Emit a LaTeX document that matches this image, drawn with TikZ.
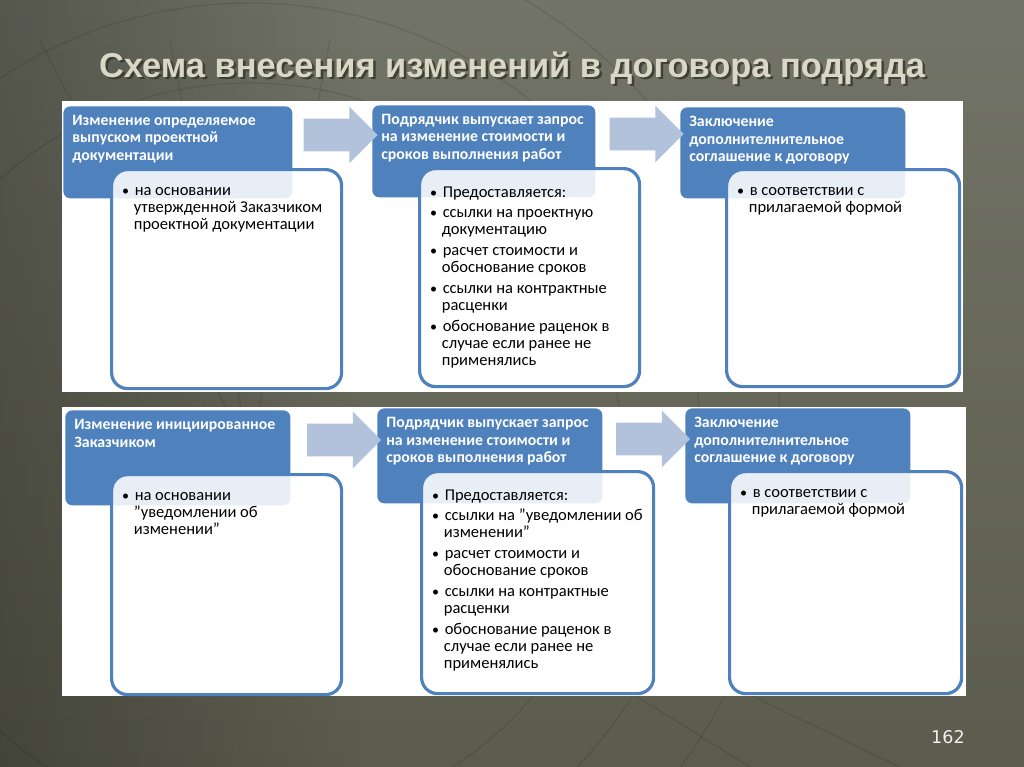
\documentclass[tikz,border=0pt]{standalone}
\usepackage{fontspec}
\setmainfont{Carlito}
\newfontfamily\titlefont{Liberation Sans}
\newfontfamily\numfont{DejaVu Sans}
\usetikzlibrary{shapes.arrows}
\usetikzlibrary{positioning}
\usetikzlibrary{fadings}
\definecolor{bgtop}{HTML}{727467}
\definecolor{bgbot}{HTML}{5B5C4D}
\definecolor{hdrblue}{HTML}{4F81BD}
\definecolor{arrblue}{HTML}{B3C2DB}
\definecolor{titlegray}{HTML}{DAD7C6}
\definecolor{shadowgray}{HTML}{35362C}
\newlength\pxu
\setlength\pxu{0.02cm}
\newenvironment{blist}{\begin{list}{\footnotesize\textbullet}{\setlength\leftmargin{7pt}\setlength\labelsep{3.2pt}\setlength\labelwidth{3.5pt}\setlength\itemsep{2.1pt}\setlength\parsep{0pt}\setlength\topsep{0pt}\setlength\partopsep{0pt}\raggedright}}{\end{list}}
\newcommand\hdtxt[3]{\parbox[t][#2\pxu][t]{#1\pxu}{\raggedright #3}}
\newcommand\bdtxt[3]{\parbox[t][#2\pxu][t]{#1\pxu}{\begin{blist}#3\end{blist}}}
\tikzfading[name=fadeleft, left color=transparent!0, right color=transparent!100]
\tikzset{
    hdrbox/.style = {rectangle, rounded corners=7\pxu, fill=hdrblue, anchor=north west, inner xsep=9\pxu, inner ysep=9\pxu, text=white, font=\bfseries\fontsize{9}{9.9}\selectfont},
    bodybox/.style = {rectangle, rounded corners=16\pxu, draw=hdrblue, line width=3.2\pxu, fill=white, fill opacity=0.87, text opacity=1, anchor=north west, inner xsep=10\pxu, inner ysep=18\pxu, text=black, font=\fontsize{9.4}{9.7}\selectfont},
    arrowbox/.style = {single arrow, fill=arrblue, inner xsep=0pt, inner ysep=16\pxu, single arrow head extend=12\pxu, single arrow tip angle=90, minimum height=74\pxu},
    gridline/.style = {black, opacity=0.10, line width=0.7pt}
}

\begin{document}
\begin{tikzpicture}[x=0.02cm, y=-0.02cm]
\useasboundingbox (0,0) rectangle (1024,767);
% background
\begin{scope}
\clip (0,0) rectangle (1024,767);
\shade[top color=bgtop, bottom color=bgbot] (0,0) rectangle (1024,767);
\fill[black, opacity=0.25, path fading=fadeleft] (0,0) rectangle (360,767);
\draw[gridline] (250,455) circle[radius=372];
\draw[gridline] (250,455) circle[radius=452];
\draw[gridline] (250,455) circle[radius=532];
\draw[gridline] (250,455) -- (40,40);
\draw[gridline] (250,455) -- (170,40);
\draw[gridline] (250,455) -- (330,40);
\draw[gridline] (250,455) -- (900,767);
\draw[gridline] (250,455) -- (750,767);
\end{scope}

% title
\node[text=shadowgray, opacity=0.8, font=\titlefont\bfseries\fontsize{19.6}{24}\selectfont] (ttlsh) at (514.5,70.5) {Схема внесения изменений в договора подряда};
\node[text=titlegray, font=\titlefont\bfseries\fontsize{19.6}{24}\selectfont] (ttl) at (512,68) {Схема внесения изменений в договора подряда};

% panels
\fill[white] (62,101) rectangle (963,392);
\fill[white] (62,407) rectangle (966,696);

% first row
\node[hdrbox] at (63,106) (hdA) {\hdtxt{211}{74}{Изменение определяемое\\выпуском проектной\\документации}};
\node[hdrbox] at (372,105) (hdB) {\hdtxt{205}{74}{Подрядчик выпускает запрос\\на изменение стоимости и\\сроков выполнения работ}};
\node[hdrbox] at (680,107) (hdC) {\hdtxt{207}{73}{Заключение\\дополнителнительное\\соглашение к договору}};
%
\node[bodybox] at (110,168) (bdA) {\bdtxt{210}{183}{\item на основании\\утвержденной Заказчиком\\проектной документации}};
\node[bodybox] at (418,167) (bdB) {\bdtxt{200}{182}{\item Предоставляется:
\item ссылки на проектную\\документацию
\item расчет стоимости и\\обоснование сроков
\item ссылки на контрактные\\расценки
\item обоснование раценок в\\случае если ранее не\\применялись}};
\node[bodybox] at (725,168) (bdC) {\bdtxt{213}{181}{\item в соответствии с\\прилагаемой формой}};
%
\node[arrowbox] at (332.5,135) (arA) {};
\node[arrowbox] at (638.5,134) (arB) {};

% second row
\node[hdrbox] at (65,410) (hdD) {\hdtxt{207}{77}{Изменение инициированное\\Заказчиком}};
\node[hdrbox] at (377,408) (hdE) {\hdtxt{207}{77}{Подрядчик выпускает запрос\\на изменение стоимости и\\сроков выполнения работ}};
\node[hdrbox] at (685,408) (hdF) {\hdtxt{207}{77}{Заключение\\дополнителнительное\\соглашение к договору}};
%
\node[bodybox] at (110,473) (bdD) {\bdtxt{210}{184}{\item на основании\\\char34уведомлении об\\изменении\char34}};
\node[bodybox] at (420,470) (bdE) {\bdtxt{212}{186}{\item Предоставляется:
\item ссылки на \char34уведомлении об\\изменении\char34
\item расчет стоимости и\\обоснование сроков
\item ссылки на контрактные\\расценки
\item обоснование раценок в\\случае если ранее не\\применялись}};
\node[bodybox] at (728,470) (bdF) {\bdtxt{212}{186}{\item в соответствии с\\прилагаемой формой}};
%
\node[arrowbox] at (336,440) (arD) {};
\node[arrowbox] at (645,439) (arE) {};

% page number
\node[text=white!94!black, font=\numfont\fontsize{10}{12}\selectfont] (pgno) at (948,737) {162};
\end{tikzpicture}
\end{document}
